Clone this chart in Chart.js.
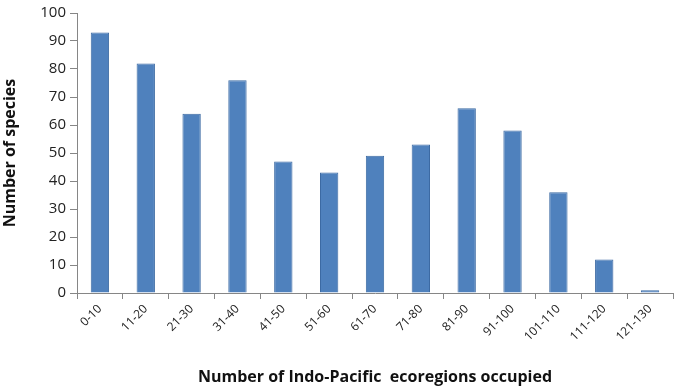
<!DOCTYPE html>
<html>
<head>
<meta charset="utf-8">
<script src="https://cdn.jsdelivr.net/npm/chart.js@4"></script>
<style>
  html, body { margin: 0; padding: 0; background: #fff; }
  #wrap { width: 680px; height: 388px; }
</style>
</head>
<body>
<div id="wrap"><canvas id="chart"></canvas></div>
<script>
// === Datos ===
const rangos = ['0-10', '11-20', '21-30', '31-40', '41-50', '51-60', '61-70',
  '71-80', '81-90', '91-100', '101-110', '111-120', '121-130'];
const especies = [93, 82, 64, 76, 47, 43, 49, 53, 66, 58, 36, 12, 1];
const ticksY = [0, 10, 20, 30, 40, 50, 60, 70, 80, 90, 100];

const fuente = "'Open Sans', 'Liberation Sans', sans-serif";
const ejeColor = '#868686';

new Chart(document.getElementById('chart'), {
  type: 'bar',
  data: {
    labels: rangos,
    datasets: [{
      label: 'Number of species',
      data: especies,
      backgroundColor: '#4f81bd',
      borderColor: '#3c6aa3',
      borderWidth: 1,
      barPercentage: 0.4,
      categoryPercentage: 1
    }]
  },
  options: {
    responsive: true,
    maintainAspectRatio: false,
    animation: false,
    layout: { padding: { top: 10, right: 7, bottom: 0, left: 0 } },
    plugins: {
      legend: { display: false },
      tooltip: { enabled: false }
    },
    scales: {
      x: {
        afterFit: (s) => { s.height = 95; },
        border: { color: ejeColor, width: 1 },
        grid: { drawOnChartArea: false, drawTicks: true, tickLength: 6, color: ejeColor, offset: true },
        ticks: {
          color: '#222',
          font: { family: fuente, size: 12 },
          minRotation: 45,
          maxRotation: 45,
          autoSkip: false
        },
        title: {
          display: true,
          text: 'Number of Indo-Pacific  ecoregions occupied',
          color: '#111',
          font: { family: fuente, size: 16, weight: 'bold' },
          padding: { top: 0, bottom: 1 }
        }
      },
      y: {
        min: 0,
        max: 100,
        afterFit: (s) => { s.width = 77; },
        afterBuildTicks: (s) => { s.ticks = ticksY.map(v => ({ value: v })); },
        border: { color: ejeColor, width: 1 },
        grid: { drawOnChartArea: false, drawTicks: true, tickLength: 7, color: ejeColor },
        ticks: {
          color: '#222',
          font: { family: fuente, size: 15 },
          padding: 4
        },
        title: {
          display: true,
          text: 'Number of species',
          color: '#111',
          font: { family: fuente, size: 16, weight: 'bold' },
          padding: { top: 1, bottom: 2 }
        }
      }
    }
  }
});
</script>
</body>
</html>
